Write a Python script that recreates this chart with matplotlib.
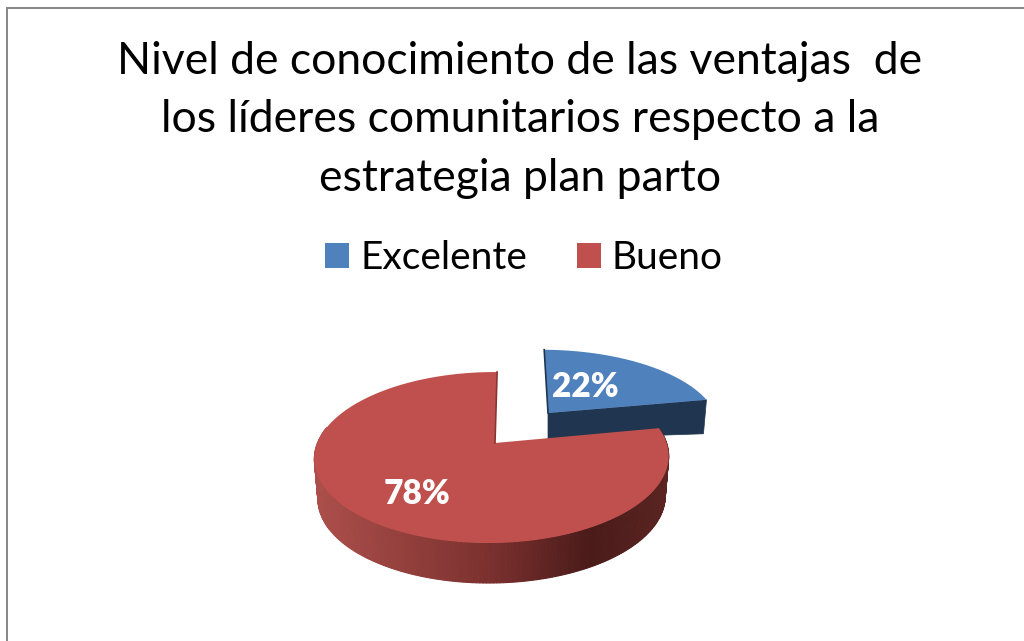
import numpy as np
from matplotlib import pyplot as plt
from matplotlib.colors import LinearSegmentedColormap
from matplotlib.patches import Patch, Polygon

categories = ['Excelente', 'Bueno']
values = [22, 78]
title = 'Nivel de conocimiento de las ventajas  de\nlos líderes comunitarios respecto a la\nestrategia plan parto'

BLUE, RED = '#4F81BD', '#C0504D'
BLUE_DARK, RED_DARK = '#1F3550', '#8A3532'
wall_cmap = LinearSegmentedColormap.from_list(
    'wall', [(0, '#AC4F4B'), (0.5, '#7A302E'), (0.78, '#4A1B19'), (1, '#5A2422')])

plt.rcParams['font.family'] = ['Lato', 'DejaVu Sans']


def project(theta, apex, rx, ry, skew, k=0.17, m=0.017):
    # squashed circle with a bit of perspective, theta clockwise from 12 o'clock
    u, v = np.sin(theta), np.cos(theta)
    s = 1 / (1 + k * v + m * u)
    y = ry * v * s
    return apex[0] + rx * u * s + skew * y, apex[1] - y


def drop(x, y, apex, depth, shrink=0.98):
    return apex[0] + (np.asarray(x) - apex[0]) * shrink, np.asarray(y) + depth


fig = plt.figure(figsize=(10.24, 6.41), dpi=100)
ax = fig.add_axes([0, 0, 1, 1])
ax.set_xlim(0, 1024)
ax.set_ylim(641, 0)
ax.axis('off')

# chart frame, only top and left fall inside the picture
ax.plot([7, 7, 1024], [641, 8, 8], color='#868686', lw=1.4, solid_joinstyle='miter')

split = 2 * np.pi * values[0] / sum(values)

# blue slice, pulled out
apex_b = (548, 413)
t = np.linspace(0, split, 60)
xb, yb = project(t, apex_b, 170, 74, -0.06)
ax.add_patch(Polygon([(apex_b[0], apex_b[1]), (xb[-1], yb[-1]), (xb[-1] - 3, yb[-1] + 34), (apex_b[0], apex_b[1] + 26)],
                     fc=BLUE_DARK, ec=BLUE_DARK, lw=0.5))
ax.add_patch(Polygon(np.column_stack([np.r_[apex_b[0], xb], np.r_[apex_b[1], yb]]),
                     fc=BLUE, ec='none'))
ax.plot([apex_b[0], xb[0]], [apex_b[1], yb[0]], color=BLUE_DARK, lw=1.2)

# red slice: wall first, then the top
apex_r = (495, 443)
depth = 40
t = np.linspace(split, 2 * np.pi, 300)
xr, yr = project(t, apex_r, 174.5, 83, 0.03)
xl, yl = drop(xr, yr, apex_r, depth)
left, right = xr.min(), xr.max()
for i in range(len(t) - 1):
    if yr[i] < apex_r[1] - 15 and xr[i] < apex_r[0]:
        continue
    col = wall_cmap((0.5 * (xr[i] + xr[i + 1]) - left) / (right - left))
    ax.add_patch(Polygon([(xr[i], yr[i]), (xr[i + 1], yr[i + 1]), (xl[i + 1], yl[i + 1]), (xl[i], yl[i])],
                         fc=col, ec=col, lw=0.8))
ax.add_patch(Polygon(np.column_stack([np.r_[apex_r[0], xr], np.r_[apex_r[1], yr]]),
                     fc=RED, ec='none'))
ax.plot([apex_r[0], xr[-1]], [apex_r[1], yr[-1]], color=RED_DARK, lw=1.2)

ax.text(585, 387, f'{values[0]}%', color='white', fontsize=24, fontweight='heavy', ha='center', va='center')
ax.text(417, 494, f'{values[1]}%', color='white', fontsize=24, fontweight='heavy', ha='center', va='center')

fig.text(520 / 1024, 1 - 120 / 641, title, fontsize=32, ha='center', va='center', linespacing=1.52)

handles = [Patch(fc=BLUE, ec='none'), Patch(fc=RED, ec='none')]
ax.legend(handles, categories, ncol=2, loc='center', bbox_to_anchor=(524 / 1024, 1 - 258 / 641),
          frameon=False, fontsize=28, handlelength=0.62, handleheight=0.62, handletextpad=0.28,
          columnspacing=1.28)

fig.savefig('out.png', dpi=100)
